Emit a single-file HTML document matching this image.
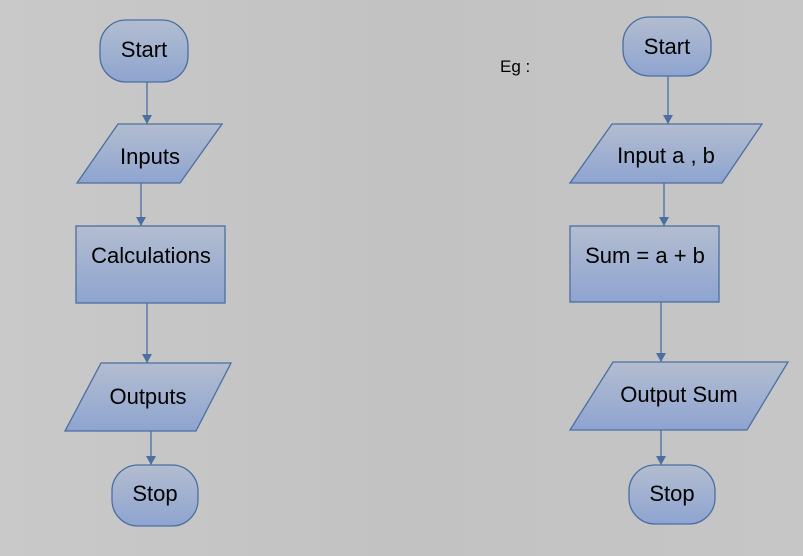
<!DOCTYPE html>
<html><head><meta charset="utf-8"><style>
html,body{margin:0;padding:0;background:#c6c6c6;}
svg{display:block}
text{font-family:"Liberation Sans",Arial,sans-serif;fill:#000;}
</style></head><body>
<svg width="803" height="556" viewBox="0 0 803 556" xmlns="http://www.w3.org/2000/svg">
<defs>
<linearGradient id="g" x1="0" y1="0" x2="0" y2="1">
<stop offset="0" stop-color="#b3bdd0"/><stop offset="1" stop-color="#8ea4d0"/>
</linearGradient>
<linearGradient id="bg" x1="0" y1="0" x2="1" y2="0">
<stop offset="0" stop-color="#c9c9c9"/><stop offset="0.5" stop-color="#c2c2c2"/><stop offset="1" stop-color="#c6c6c6"/>
</linearGradient>
<marker id="a" markerWidth="10" markerHeight="10" refX="9" refY="5" orient="auto" markerUnits="userSpaceOnUse">
<path d="M0,0 L9,5 L0,10 z" fill="#4a6fa0"/>
</marker>
</defs>
<rect width="803" height="556" fill="url(#bg)"/>
<g stroke="#4a6fa0" stroke-width="1.3" fill="url(#g)">
<rect x="100" y="20" width="88" height="62" rx="26"/>
<polygon points="118,124 222,124 180,183 77,183"/>
<rect x="76" y="226" width="149" height="77"/>
<polygon points="101,363 231,363 196,431 65,431"/>
<rect x="112" y="465" width="86" height="61" rx="26"/>
<rect x="623" y="17" width="88" height="59" rx="26"/>
<polygon points="612,124 762,124 722,183 570,183"/>
<rect x="570" y="226" width="149" height="76"/>
<polygon points="613,362 788,362 747,430 570,430"/>
<rect x="629" y="465" width="86" height="59" rx="26"/>
</g>
<g stroke="#4a6fa0" stroke-width="1.3" fill="none">
<line x1="147" y1="82" x2="147" y2="124" marker-end="url(#a)"/>
<line x1="141" y1="183" x2="141" y2="226" marker-end="url(#a)"/>
<line x1="147" y1="303" x2="147" y2="363" marker-end="url(#a)"/>
<line x1="151" y1="431" x2="151" y2="465" marker-end="url(#a)"/>
<line x1="668" y1="76" x2="668" y2="124" marker-end="url(#a)"/>
<line x1="664" y1="183" x2="664" y2="226" marker-end="url(#a)"/>
<line x1="661" y1="302" x2="661" y2="362" marker-end="url(#a)"/>
<line x1="661" y1="430" x2="661" y2="465" marker-end="url(#a)"/>
</g>
<g font-size="22" text-anchor="middle">
<text x="144" y="57">Start</text>
<text x="150" y="164">Inputs</text>
<text x="151" y="263">Calculations</text>
<text x="148" y="404">Outputs</text>
<text x="155" y="501">Stop</text>
<text x="667" y="54">Start</text>
<text x="666" y="163">Input a , b</text>
<text x="645" y="263">Sum = a + b</text>
<text x="679" y="402">Output Sum</text>
<text x="672" y="501">Stop</text>
</g>
<text x="500" y="72" font-size="17">Eg :</text>
</svg>
</body></html>
